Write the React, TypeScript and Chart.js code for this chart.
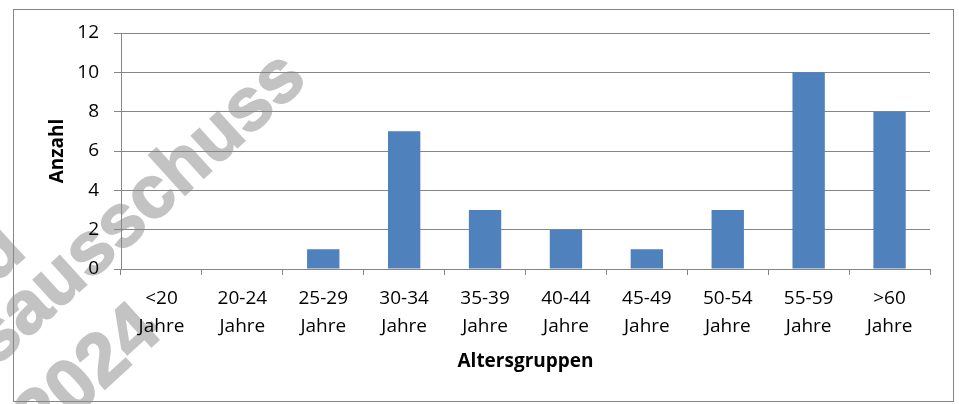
import React, { useEffect, useRef } from "react";
import { Chart, registerables } from "chart.js";

Chart.register(...registerables);

const categories: string[][] = [
  ["<20", "Jahre"],
  ["20-24", "Jahre"],
  ["25-29", "Jahre"],
  ["30-34", "Jahre"],
  ["35-39", "Jahre"],
  ["40-44", "Jahre"],
  ["45-49", "Jahre"],
  ["50-54", "Jahre"],
  ["55-59", "Jahre"],
  [">60", "Jahre"],
];
const counts: number[] = [0, 0, 1, 7, 3, 2, 1, 3, 10, 8];
const yTitle = "Anzahl";
const xTitle = "Altersgruppen";
const watermarkLines: string[] = ["Vorstand", "Kreisausschuss", "2024"];

const FONT = "'Open Sans', 'Liberation Sans', sans-serif";
const GRID = "#868686";

const decorPlugin = {
  id: "decor",
  beforeDraw(chart: any) {
    const ctx = chart.ctx as CanvasRenderingContext2D;
    ctx.save();
    ctx.fillStyle = "#ffffff";
    ctx.fillRect(0, 0, chart.width, chart.height);
    // watermark
    ctx.fillStyle = "#c3c3c3";
    ctx.strokeStyle = "#c3c3c3";
    ctx.lineWidth = 2;
    ctx.font = "bold 74px 'Liberation Sans', Arial, sans-serif";
    ctx.textAlign = "right";
    ctx.textBaseline = "alphabetic";
    const ang = (-42.3 * Math.PI) / 180;
    const anchors = [
      [28, 254],
      [309, 82],
      [164, 335],
    ];
    watermarkLines.forEach((t, i) => {
      ctx.save();
      ctx.translate(anchors[i][0], anchors[i][1]);
      ctx.rotate(ang);
      ctx.fillText(t, 0, 0);
      ctx.strokeText(t, 0, 0);
      ctx.restore();
    });
    ctx.restore();
  },
  afterDraw(chart: any) {
    const ctx = chart.ctx as CanvasRenderingContext2D;
    ctx.save();
    ctx.strokeStyle = GRID;
    ctx.lineWidth = 1;
    ctx.strokeRect(13.5, 9.5, 940, 392);
    ctx.restore();
  },
};

export default function App() {
  const ref = useRef<HTMLCanvasElement | null>(null);

  useEffect(() => {
    if (!ref.current) return;
    const chart = new Chart(ref.current, {
      type: "bar",
      data: {
        labels: categories,
        datasets: [
          {
            data: counts,
            backgroundColor: "#4F81BD",
            borderWidth: 0,
            barPercentage: 0.4,
            categoryPercentage: 1,
          },
        ],
      },
      options: {
        responsive: false,
        animation: false,
        devicePixelRatio: 1,
        layout: { padding: { left: 0, top: 33, right: 29, bottom: 0 } },
        plugins: {
          legend: { display: false },
          tooltip: { enabled: false },
        },
        scales: {
          x: {
            offset: true,
            grid: {
              display: true,
              drawOnChartArea: false,
              drawTicks: true,
              tickLength: 6,
              color: GRID,
              offset: true,
            },
            border: { color: GRID },
            ticks: {
              color: "#000",
              padding: 10,
              maxRotation: 0,
              autoSkip: false,
              font: { family: FONT, size: 19, lineHeight: 1.47 },
            },
            title: {
              display: true,
              text: xTitle,
              color: "#000",
              font: { family: FONT, size: 19, weight: "bold", lineHeight: 1.2 },
              padding: { top: 0, bottom: 31 },
            },
            afterFit: (scale: any) => {
              scale.height = 135;
            },
          },
          y: {
            min: 0,
            max: 12,
            ticks: {
              stepSize: 2,
              color: "#000",
              padding: 15,
              font: { family: FONT, size: 19 },
            },
            grid: { color: GRID, tickLength: 7 },
            border: { color: GRID },
            title: {
              display: true,
              text: yTitle,
              color: "#000",
              font: { family: FONT, size: 19, weight: "bold", lineHeight: 1.2 },
              padding: { top: 46, bottom: 0 },
            },
            afterFit: (scale: any) => {
              scale.width = 121;
            },
          },
        },
      },
      plugins: [decorPlugin],
    });
    return () => chart.destroy();
  }, []);

  return (
    <div style={{ position: "absolute", left: 0, top: 0, width: 959, height: 404 }}>
      <canvas ref={ref} width={959} height={404} style={{ width: 959, height: 404 }} />
    </div>
  );
}
